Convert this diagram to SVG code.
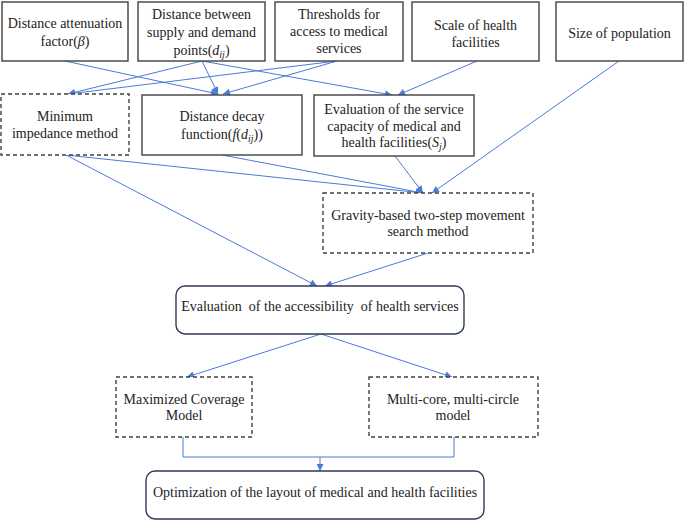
<svg xmlns="http://www.w3.org/2000/svg" width="685" height="521" viewBox="0 0 685 521">
<defs>
<style>
.box{fill:#fff;stroke:#404040;stroke-width:1.4}
.dash{fill:#fff;stroke:#404040;stroke-width:1.4;stroke-dasharray:4 3}
.rnd{fill:#fff;stroke:#2f3a5a;stroke-width:1.4}
.t text{font-family:'Liberation Serif','Times New Roman',Times,serif;font-size:14px;fill:#222;text-anchor:middle}
.it{font-style:italic}
.sub{font-size:10px;font-style:italic}
.con line,.con polyline{stroke:#4a7bd6;stroke-width:1;fill:none}
.arr{marker-end:url(#ah)}
</style>
<marker id="ah" viewBox="0 0 10 10" refX="10" refY="5" markerWidth="8" markerHeight="7" markerUnits="userSpaceOnUse" orient="auto">
<path d="M0,0 L10,5 L0,10 z" fill="#4a7bd6"/>
</marker>
</defs>
<rect width="685" height="521" fill="#fff"/>
<g class="con">
<line class="arr" x1="65" y1="61" x2="218" y2="94"/>
<line class="arr" x1="202" y1="61" x2="68" y2="94"/>
<line class="arr" x1="202" y1="61" x2="218" y2="94"/>
<line class="arr" x1="202" y1="61" x2="392" y2="95"/>
<line class="arr" x1="337" y1="61" x2="68" y2="94"/>
<line class="arr" x1="337" y1="61" x2="223" y2="94"/>
<line class="arr" x1="477" y1="61" x2="398" y2="95"/>
<line class="arr" x1="66" y1="155" x2="423" y2="193"/>
<line class="arr" x1="66" y1="155" x2="317" y2="286"/>
<line class="arr" x1="222" y1="155" x2="423" y2="193"/>
<line class="arr" x1="395" y1="156" x2="423" y2="193"/>
<line class="arr" x1="619" y1="61" x2="432" y2="193"/>
<line class="arr" x1="428" y1="253" x2="325" y2="286"/>
<line class="arr" x1="321" y1="334" x2="187" y2="377"/>
<line class="arr" x1="321" y1="334" x2="452" y2="377"/>
<polyline points="183,437 183,457 454,457 454,437"/>
<line class="arr" x1="320" y1="457" x2="320" y2="471"/>
</g>
<g class="t" style="font-family:'Liberation Serif',serif">
<g id="n1"><rect class="box" x="2" y="2" width="126" height="59"/>
<text x="65" y="28">Distance attenuation</text>
<text x="65" y="46">factor(<tspan class="it">β</tspan>)</text></g>
<g id="n2"><rect class="box" x="138" y="2" width="127" height="59"/>
<text x="201.5" y="19">Distance between</text>
<text x="201.5" y="37">supply and demand</text>
<text x="201.5" y="55">points(<tspan class="it">d</tspan><tspan class="sub" dy="3">ij</tspan><tspan dy="-3">)</tspan></text></g>
<g id="n3"><rect class="box" x="275" y="2" width="128" height="59"/>
<text x="339" y="19">Thresholds for</text>
<text x="339" y="36">access to medical</text>
<text x="339" y="53">services</text></g>
<g id="n4"><rect class="box" x="412" y="2" width="127" height="59"/>
<text x="475.5" y="30">Scale of health</text>
<text x="475.5" y="47">facilities</text></g>
<g id="n5"><rect class="box" x="556" y="2" width="127" height="59"/>
<text x="619.5" y="38">Size of population</text></g>
<g id="n6"><rect class="dash" x="1" y="94" width="128" height="61"/>
<text x="65" y="121">Minimum</text>
<text x="65" y="138">impedance method</text></g>
<g id="n7"><rect class="box" x="142" y="95" width="160" height="60"/>
<text x="222" y="121">Distance decay</text>
<text x="222" y="139">function(<tspan class="it">f</tspan>(<tspan class="it">d</tspan><tspan class="sub" dy="3">ij</tspan><tspan dy="-3">))</tspan></text></g>
<g id="n8"><rect class="box" x="314" y="95" width="160" height="61"/>
<text x="394" y="114">Evaluation of the service</text>
<text x="394" y="131">capacity of medical and</text>
<text x="394" y="147">health facilities(<tspan class="it">S</tspan><tspan class="sub" dy="3">j</tspan><tspan dy="-3">)</tspan></text></g>
<g id="n9"><rect class="dash" x="323" y="193" width="210" height="60"/>
<text x="428" y="220">Gravity-based two-step movement</text>
<text x="428" y="236">search method</text></g>
<g id="n10"><rect class="rnd" x="176" y="286" width="288" height="48" rx="9"/>
<text x="320" y="311" xml:space="preserve">Evaluation  of the accessibility  of health services</text></g>
<g id="n11"><rect class="dash" x="116" y="377" width="136" height="60"/>
<text x="184" y="404">Maximized Coverage</text>
<text x="184" y="420">Model</text></g>
<g id="n12"><rect class="dash" x="369" y="377" width="169" height="60"/>
<text x="453" y="404">Multi-core, multi-circle</text>
<text x="453" y="420">model</text></g>
<g id="n13"><rect class="rnd" x="146" y="471" width="338" height="48" rx="9"/>
<text x="315" y="497">Optimization of the layout of medical and health facilities</text></g>
</g>
</svg>
